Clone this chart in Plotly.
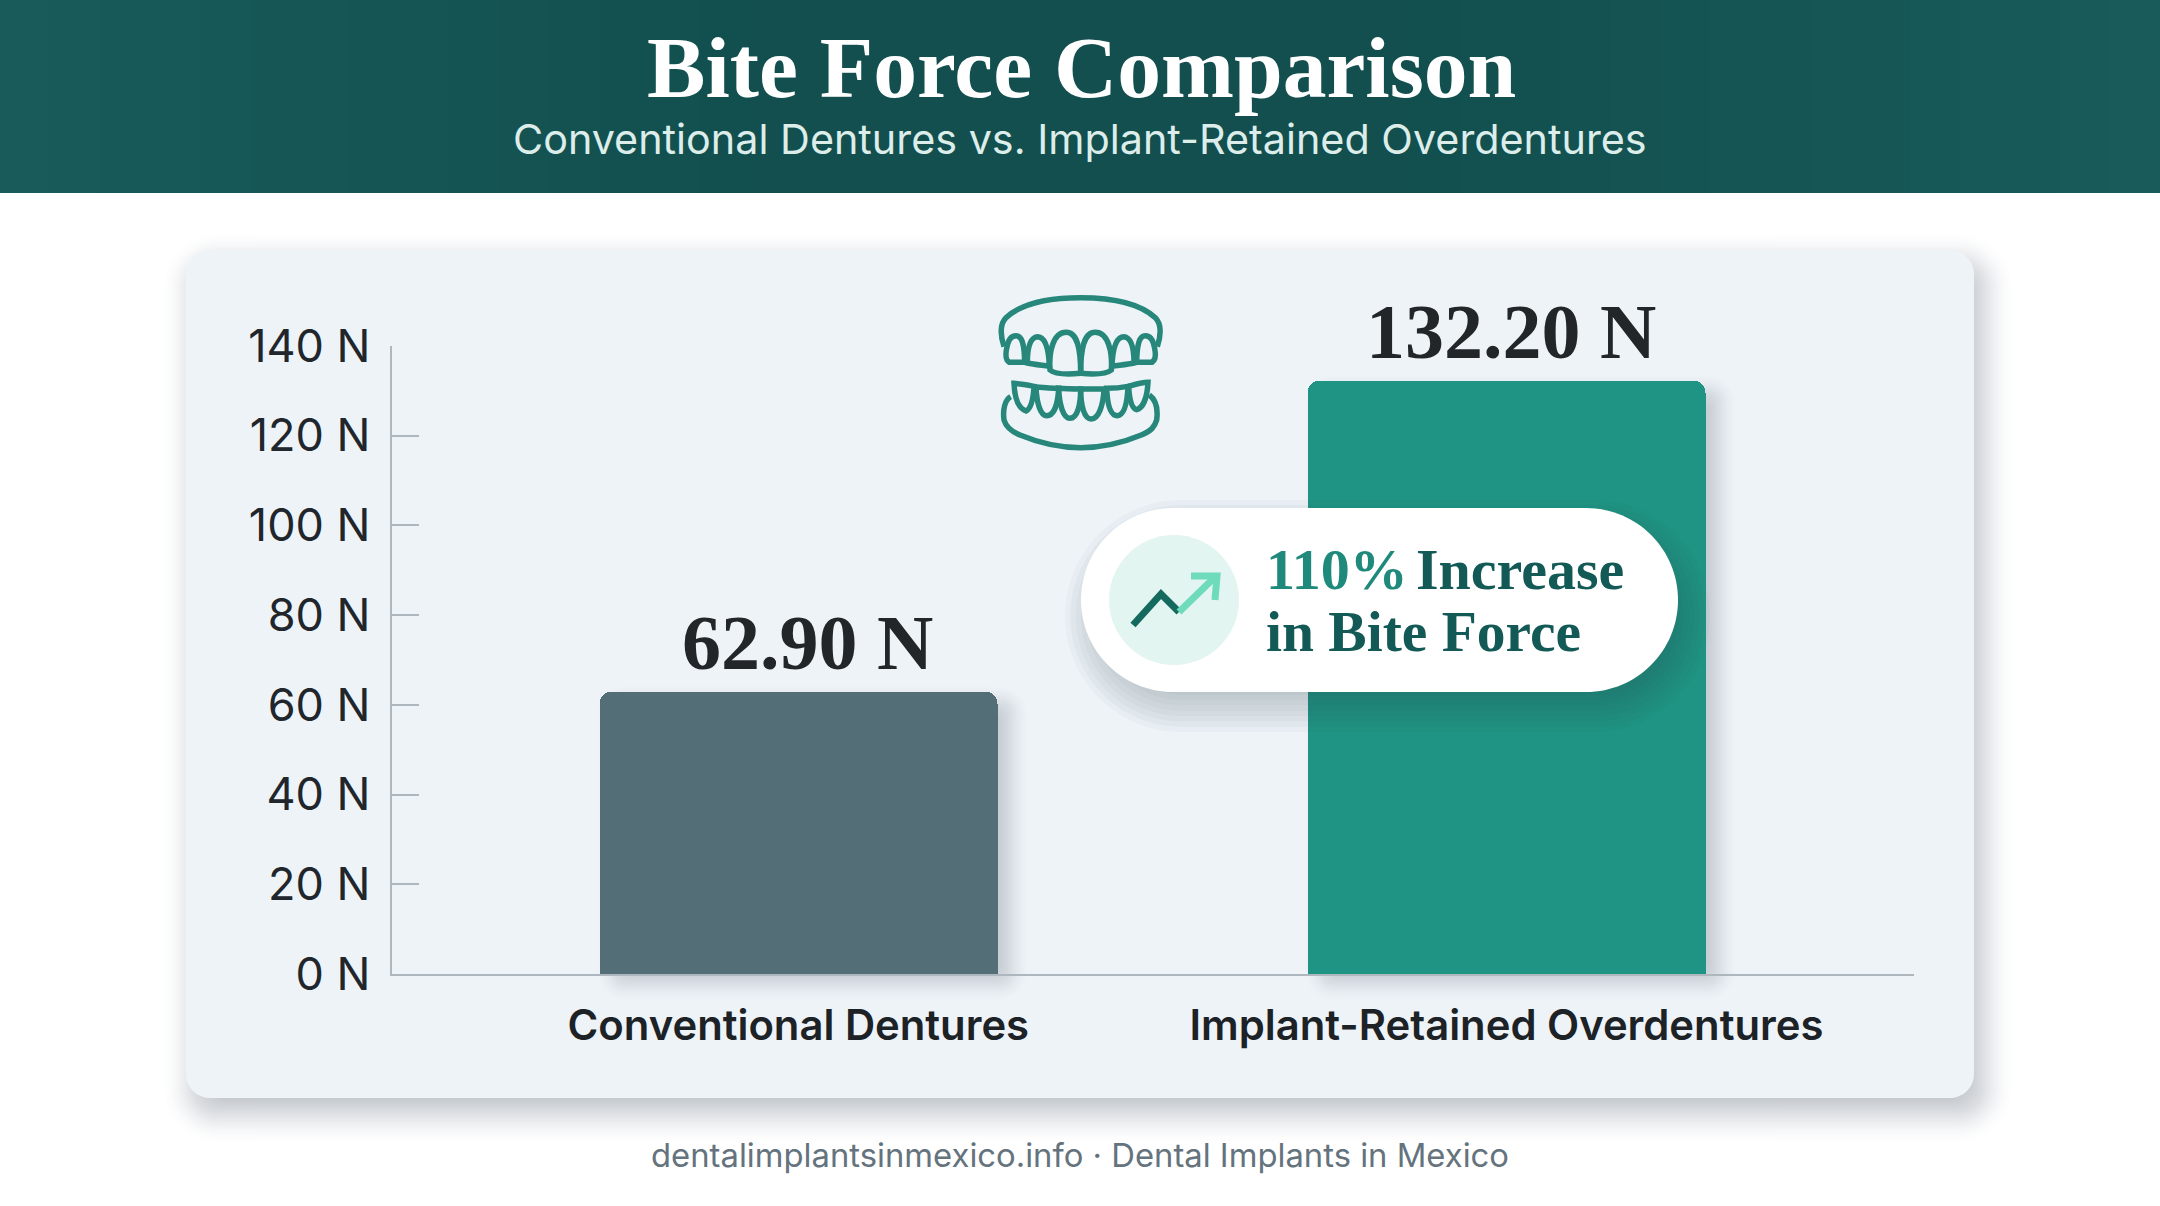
import re
import plotly.graph_objects as go

W, H = 2160, 1206

# Data
categories = ["Conventional Dentures", "Implant-Retained Overdentures"]
values = [62.90, 132.20]
bar_colors = ["#546E78", "#1F9484"]
y_ticks = [0, 20, 40, 60, 80, 100, 120, 140]
title_text = "Bite Force Comparison"
subtitle_text = "Conventional Dentures vs. Implant-Retained Overdentures"
footer_text = "dentalimplantsinmexico.info · Dental Implants in Mexico"
callout_pct = "110%"
callout_rest = " Increase"
callout_line2 = "in Bite Force"

# Layout helpers (page pixels -> paper fractions)
PLOT_L, PLOT_R, PLOT_T, PLOT_B = 391.5, 1914.0, 345.8, 974.0
X_RANGE = [-0.5745, 1.5756]
Y_RANGE = [0, 140]
BAR_W = 0.562


def fx(p):
    return p / W


def fy(p):
    return 1 - p / H


def d2x(v):
    return PLOT_L + (v - X_RANGE[0]) / (X_RANGE[1] - X_RANGE[0]) * (PLOT_R - PLOT_L)


def d2y(v):
    return PLOT_B - (v - Y_RANGE[0]) / (Y_RANGE[1] - Y_RANGE[0]) * (PLOT_B - PLOT_T)


def tf_path(s, ox=0.0, oy=0.0, k=1.0):
    """Turn 'M x,y C ...' in pixel space into paper coordinates."""
    out, is_x = [], True
    for tok in re.findall(r"[A-Za-z]|-?\d+\.?\d*", s):
        if tok.isalpha():
            out.append(tok)
        else:
            v = float(tok)
            out.append(f"{fx(ox + v * k):.6f}" if is_x else f"{fy(oy + v * k):.6f}")
            is_x = not is_x
    return " ".join(out)


def rrect(x0, y0, x1, y1, r):
    r = min(r, (x1 - x0) / 2, (y1 - y0) / 2)
    k = 0.448 * r
    return tf_path(
        f"M {x0 + r},{y0} L {x1 - r},{y0} C {x1 - k},{y0} {x1},{y0 + k} {x1},{y0 + r} "
        f"L {x1},{y1 - r} C {x1},{y1 - k} {x1 - k},{y1} {x1 - r},{y1} "
        f"L {x0 + r},{y1} C {x0 + k},{y1} {x0},{y1 - k} {x0},{y1 - r} "
        f"L {x0},{y0 + r} C {x0},{y0 + k} {x0 + k},{y0} {x0 + r},{y0} Z"
    )


def mix(c0, c1, t):
    a = [int(c0[i:i + 2], 16) for i in (1, 3, 5)]
    b = [int(c1[i:i + 2], 16) for i in (1, 3, 5)]
    return "#" + "".join(f"{round(p + (q - p) * t):02X}" for p, q in zip(a, b))


shapes = []


def fill_shape(path, color, layer="below", opacity=1.0):
    shapes.append(dict(type="path", xref="paper", yref="paper", path=path, fillcolor=color,
                       line=dict(width=0), layer=layer, opacity=opacity))


def stroke_shape(path, color, width, layer="above"):
    shapes.append(dict(type="path", xref="paper", yref="paper", path=path,
                       line=dict(color=color, width=width), layer=layer))


def solid_shadow(x0, y0, x1, y1, r, dx, dy, spread, steps, bg, dark):
    """Soft shadow on a flat background, as nested opaque shapes."""
    for i in range(steps):
        t = i / (steps - 1)
        g = spread * (1 - 2 * t)
        fill_shape(rrect(x0 + dx - g, y0 + dy - g, x1 + dx + g, y1 + dy + g, r + max(g, 0)),
                   mix(bg, dark, t * t * (3 - 2 * t)))


def glass_shadow(x0, y0, x1, y1, r, dx, dy, spread, steps, alpha, layer):
    for i in range(steps):
        g = spread * (1 - 2 * i / (steps - 1))
        fill_shape(rrect(x0 + dx - g, y0 + dy - g, x1 + dx + g, y1 + dy + g, r + max(g, 0)),
                   "#2A3A48", layer=layer, opacity=alpha)


# Header band with a soft darkening toward the middle
for i in range(16):
    inset = i * 50
    color = mix("#185B5A", "#124F4E", i / 15)
    fill_shape(tf_path(f"M {inset},0 L {2160 - inset},0 L {2160 - inset},193 L {inset},193 Z"), color)

# Card
CARD_BG = "#EEF3F8"
solid_shadow(186, 250, 1974, 1098, 24, 8, 14, 34, 34, "#FFFFFF", "#B4BAC1")
fill_shape(rrect(186, 250, 1974, 1098, 24), CARD_BG)

# Bar shadows, derived from the data
for i, v in enumerate(values):
    x0, x1 = d2x(i - BAR_W / 2), d2x(i + BAR_W / 2)
    solid_shadow(x0, d2y(v), x1, d2y(0), 12, 14, 10, 20, 20, CARD_BG, "#C2C8CF")

# Callout pill
PX0, PY0, PX1, PY1 = 1081, 508, 1678, 692
glass_shadow(PX0, PY0, PX1, PY1, 92, 8, 16, 24, 10, 0.03, "above")
fill_shape(rrect(PX0, PY0, PX1, PY1, 92), "#FFFFFF", layer="above")
fill_shape(rrect(1109, 535, 1239, 665, 65), "#E2F5F1", layer="above")
# Trend arrow inside the pill
stroke_shape(tf_path("M 1133,625 L 1161,594 L 1179,612"), "#146A5F", 7)
stroke_shape(tf_path("M 1179,612 L 1217,575"), "#6EDBBB", 7)
stroke_shape(tf_path("M 1191,576 L 1217,576 L 1215,600"), "#6EDBBB", 7)

# Denture icon: coordinates in crop units, scaled onto the page
ICON = [
    # upper gum
    "M 42,185 C 30,150 30,115 48,98 C 100,50 190,38 272,38 C 354,38 444,50 496,98 C 514,115 514,150 502,185",
    # upper teeth
    "M 58,232 C 46,225 46,210 50,190 C 54,165 65,152 78,152 C 95,152 103,175 104,232 Z",
    "M 112,234 C 112,195 118,158 142,155 C 165,155 176,190 178,244 C 150,240 130,238 112,234 Z",
    "M 180,255 C 176,200 190,142 228,142 C 262,142 272,190 272,265 C 240,268 195,268 180,255 Z",
    "M 364,255 C 368,200 354,142 316,142 C 282,142 272,190 272,265 C 304,268 349,268 364,255 Z",
    "M 432,234 C 432,195 426,158 402,155 C 379,155 368,190 366,244 C 394,240 414,238 432,234 Z",
    "M 486,232 C 498,225 498,210 494,190 C 490,165 479,152 466,152 C 449,152 441,175 440,232 Z",
    # lower gum
    "M 62,335 C 44,345 38,375 42,405 C 48,425 60,438 90,450 C 150,475 215,488 272,488 C 329,488 394,475 454,450 C 484,438 494,425 500,405 C 504,375 498,345 478,330",
    # lower teeth
    "M 72,295 C 74,340 84,370 108,378 C 125,370 130,340 132,304 C 112,300 90,296 72,295 Z",
    "M 138,306 C 140,350 150,392 170,392 C 195,392 204,350 206,310 C 184,310 160,308 138,306 Z",
    "M 206,310 C 208,360 220,400 240,400 C 262,400 272,360 272,312 C 250,312 228,312 206,310 Z",
    "M 272,312 C 272,360 282,402 304,402 C 326,402 340,360 342,312 C 320,312 296,312 272,312 Z",
    "M 350,310 C 352,355 360,392 382,392 C 404,390 412,350 414,304 C 394,308 372,310 350,310 Z",
    "M 416,304 C 418,340 424,370 440,374 C 462,368 472,330 474,292 C 456,292 436,298 416,304 Z",
]
for p in ICON:
    stroke_shape(tf_path(p, ox=990, oy=285, k=1 / 3), "#26877A", 5.5, layer="below")

fig = go.Figure(
    go.Bar(
        x=categories,
        y=values,
        width=BAR_W,
        marker=dict(color=bar_colors, line=dict(width=0), cornerradius=12),
        hoverinfo="skip",
    )
)

annotations = []


def note(text, px, py, size, color, family, bold=False, xanchor="center"):
    annotations.append(dict(
        text=f"<b>{text}</b>" if bold else text,
        xref="paper", yref="paper", x=fx(px), y=fy(py), xanchor=xanchor, yanchor="middle",
        showarrow=False, font=dict(size=size, color=color, family=family),
    ))


note(title_text, 1081, 68, 87.6, "#FFFFFF", "Liberation Serif", bold=True)
note(subtitle_text, 1080, 139, 41.3, "#DCEDEA", "Inter")
note(footer_text, 1080, 1155, 32.8, "#64737D", "Inter")
note(f"{callout_pct}", 1264, 569, 58, "#1F8A7B", "Liberation Serif", bold=True, xanchor="left")
note(f"{callout_rest.strip()}", 1414, 569, 58, "#135A57", "Liberation Serif", bold=True, xanchor="left")
note(callout_line2, 1264, 632, 57.5, "#135A57", "Liberation Serif", bold=True, xanchor="left")

value_shift = [9, 5]
for i, v in enumerate(values):
    annotations.append(dict(
        text=f"<b>{v:.2f} N</b>", x=categories[i], y=v, xref="x", yref="y",
        xshift=value_shift[i], yshift=49, xanchor="center", yanchor="middle", showarrow=False,
        font=dict(size=78, color="#222629", family="Liberation Serif"),
    ))

fig.update_layout(
    width=W,
    height=H,
    autosize=False,
    margin=dict(l=0, r=0, t=0, b=0, pad=0),
    paper_bgcolor="#FFFFFF",
    plot_bgcolor="rgba(0,0,0,0)",
    showlegend=False,
    bargap=0,
    shapes=shapes,
    annotations=annotations,
    xaxis=dict(
        automargin=False,
        domain=[fx(PLOT_L), fx(PLOT_R)],
        type="category",
        categoryorder="array",
        categoryarray=categories,
        range=X_RANGE,
        showgrid=False,
        zeroline=False,
        showline=True,
        linecolor="#AEB6BE",
        linewidth=2,
        ticks="",
        ticklabelstandoff=14,
        tickfont=dict(family="Inter", size=41.8, color="#1C2226", weight=600),
        anchor="y",
    ),
    yaxis=dict(
        automargin=False,
        domain=[fy(PLOT_B), fy(PLOT_T)],
        range=Y_RANGE,
        tickvals=y_ticks,
        ticktext=[f"{t} N" for t in y_ticks],
        showgrid=False,
        zeroline=False,
        showline=True,
        linecolor="#AEB6BE",
        linewidth=2,
        ticks="inside",
        ticklen=27,
        tickwidth=2,
        tickcolor="#AEB6BE",
        ticklabelstandoff=10,
        tickfont=dict(family="Inter", size=45, color="#20262B"),
        anchor="x",
    ),
)

fig.write_html(
    "out.html",
    config=dict(displayModeBar=False, responsive=False),
    post_script="document.body.style.margin='0';document.body.style.overflow='hidden';",
)
